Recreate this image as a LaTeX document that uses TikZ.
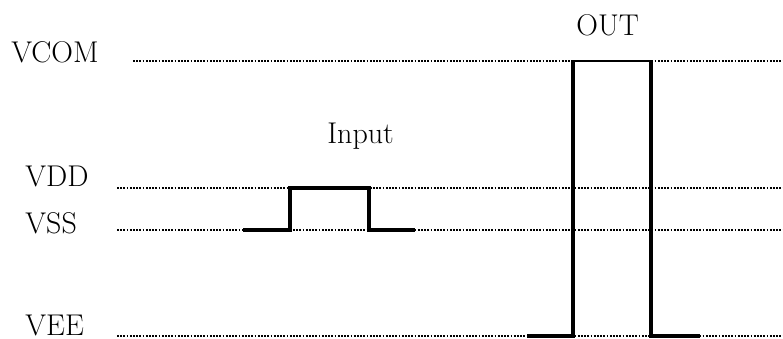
\documentclass[tikz,border=0pt]{standalone}
\usetikzlibrary{positioning}

\tikzset{
  lvl/.style={line width=1pt, dash pattern=on 0.9pt off 0.7pt},
  pulse/.style={line width=1.6pt},
  lbl/.style={anchor=base west, inner sep=0pt, font=\fontsize{15}{18}\selectfont}
}

\begin{document}
\begin{tikzpicture}[x=0.5pt, y=-0.5pt] % one unit = one pixel of the original
            % fix the page size
            \useasboundingbox (0,0) rectangle (783,338);
            % level names
            \node[lbl] (vcom) at (11,62) {VCOM};
            \node[lbl] (vdd) at (25,186) {VDD};
            \node[lbl] (vss) at (25,233) {VSS};
            \node[lbl] (vee) at (25,335) {VEE};
            % signal names
            \node[lbl] (input) at (327,143) {Input};
            \node[lbl] (out) at (576,35) {OUT};

            % ends of the level lines
            \coordinate (vcomL) at (133,61);  \coordinate (vcomR) at (783,61);
            \coordinate (vddL) at (117,188);  \coordinate (vddR) at (783,188);
            \coordinate (vssL) at (117,230);  \coordinate (vssR) at (783,230);
            \coordinate (veeL) at (117,336);  \coordinate (veeR) at (783,336);

            \draw[lvl] (vcomL) -- (vcomR);
            \draw[lvl] (vddL) -- (vddR);
            \draw[lvl] (vssL) -- (vssR);
            \draw[lvl] (veeL) -- (veeR);

            % input pulse between VSS and VDD
            \coordinate (in0) at (243,230);
            \coordinate (in1) at (290,230);
            \coordinate (in2) at (290,188);
            \coordinate (in3) at (369,188);
            \coordinate (in4) at (369,230);
            \coordinate (in5) at (415,230);
            \draw[pulse] (in0) -- (in1) -- (in2) -- (in3) -- (in4) -- (in5);

            % output pulse between VEE and VCOM
            \coordinate (o0) at (527,336);
            \coordinate (o1) at (573,336);
            \coordinate (o2) at (573,61);
            \coordinate (o3) at (651,61);
            \coordinate (o4) at (651,336);
            \coordinate (o5) at (700,336);
            \draw[pulse] (o0) -- (o1) -- (o2);
            \draw[line width=0.7pt] (o2) -- (o3);
            \draw[pulse] (o3) -- (o4) -- (o5);
        \end{tikzpicture}
\end{document}
